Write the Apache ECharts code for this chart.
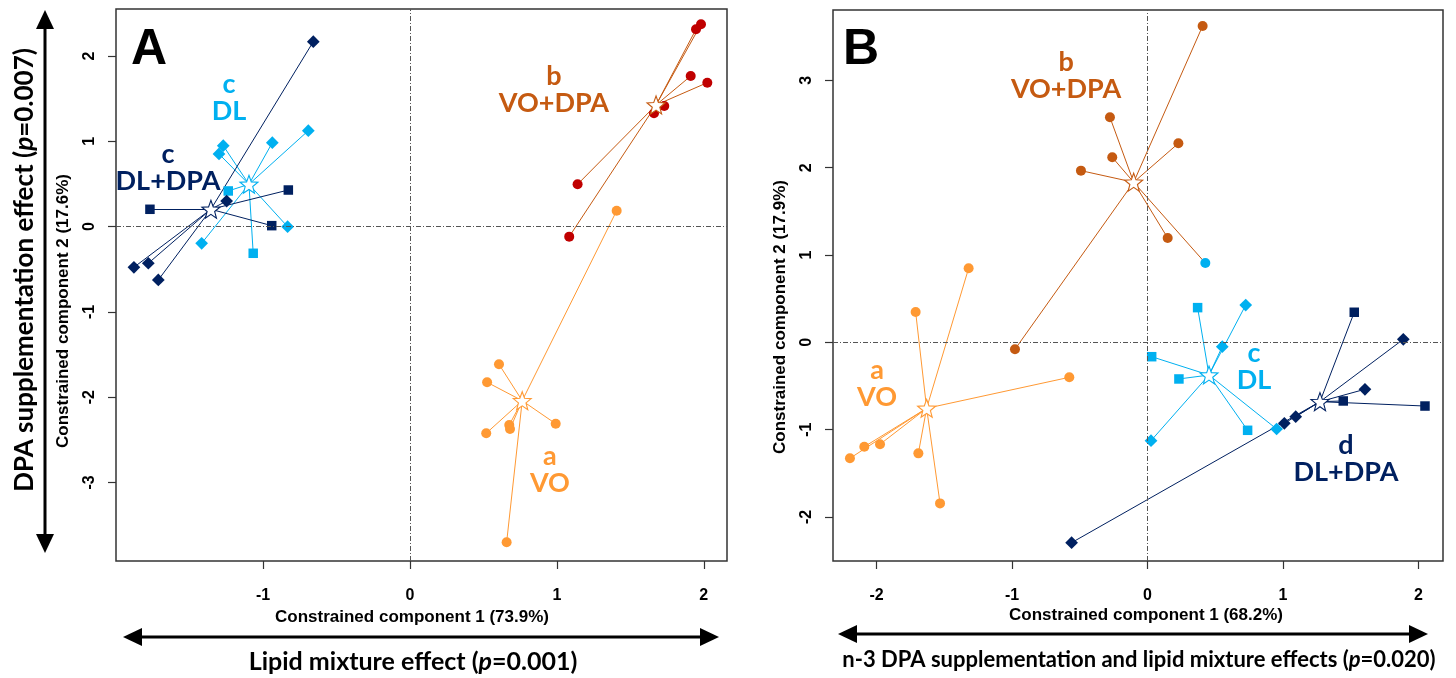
<!DOCTYPE html>
<html lang="en">
<head>
<meta charset="UTF-8">
<title>CAP ordination A / B</title>
<script src="https://cdn.jsdelivr.net/npm/echarts@6/dist/echarts.min.js"></script>
<style>
    html, body { margin: 0; padding: 0; background: #fff; }
    #main { width: 1456px; height: 678px; }
</style>
</head>
<body>
<div id="main"></div>
<script>
// ---------- panel A (lipid mixture / DPA supplementation) ----------
// form: 's' = square, 'd' = diamond, 'c' = circle
var A_dldpa_x = [-0.658, -1.770, -1.248, -0.828, -0.941, -1.879, -1.781, -1.713];
var A_dldpa_y = [2.169, 0.203, 0.300, 0.429, 0.011, -0.477, -0.430, -0.626];
var A_dldpa_form = ['d', 's', 'd', 's', 's', 'd', 'd', 'd'];
var A_dldpa_centre = [-1.355, 0.203];

var A_dl_x = [-1.271, -1.300, -0.937, -0.692, -1.237, -0.833, -1.418, -1.067];
var A_dl_y = [0.949, 0.852, 0.984, 1.125, 0.418, -0.001, -0.196, -0.313];
var A_dl_form = ['d', 'd', 'd', 'd', 's', 'd', 'd', 's'];
var A_dl_centre = [-1.096, 0.496];

var A_vodpa_x = [1.981, 1.947, 1.911, 2.024, 1.731, 1.661, 1.141, 1.084];
var A_vodpa_y = [2.373, 2.314, 1.766, 1.688, 1.414, 1.329, 0.496, -0.118];
var A_vodpa_centre = [1.675, 1.426];

var A_vo_x = [1.407, 0.606, 0.525, 0.519, 0.676, 0.681, 0.992, 0.658];
var A_vo_y = [0.186, -1.615, -1.826, -2.424, -2.327, -2.374, -2.312, -3.703];
var A_vo_centre = [0.764, -2.042];

// ---------- panel B ----------
var B_vodpa_x = [0.407, -0.277, -0.260, 0.228, 0.149, 0.427, -0.491, -0.978];
var B_vodpa_y = [3.623, 2.577, 2.119, 2.279, 1.195, 0.908, 1.966, -0.080];
var B_vodpa_diet = ['VO+DPA', 'VO+DPA', 'VO+DPA', 'VO+DPA', 'VO+DPA', 'DL', 'VO+DPA', 'VO+DPA'];
var B_vodpa_centre = [-0.102, 1.833];

var B_vo_x = [-1.320, -1.711, -0.577, -2.196, -2.090, -1.974, -1.691, -1.531];
var B_vo_y = [0.848, 0.347, -0.401, -1.329, -1.196, -1.168, -1.272, -1.845];
var B_vo_centre = [-1.630, -0.756];

var B_dl_x = [0.370, 0.725, 0.552, 0.031, 0.232, 0.026, 0.739, 0.953];
var B_dl_y = [0.397, 0.427, -0.050, -0.165, -0.420, -1.127, -1.008, -0.993];
var B_dl_form = ['s', 'd', 'd', 's', 's', 'd', 's', 'd'];
var B_dl_centre = [0.454, -0.375];

var B_dldpa_x = [1.526, 1.888, 1.605, 1.445, 2.048, 1.094, 1.010, -0.560];
var B_dldpa_y = [0.344, 0.034, -0.538, -0.672, -0.730, -0.852, -0.928, -2.295];
var B_dldpa_form = ['s', 'd', 'd', 's', 's', 'd', 'd', 'd'];
var B_dldpa_centre = [1.273, -0.680];

// group labels (letter of significance + diet), in data units
var A_labels = [
    {text: 'c\nDL', at: [-1.232, 1.514], diet: 'DL'},
    {text: 'c\nDL+DPA', at: [-1.647, 0.693], diet: 'DL+DPA'},
    {text: 'b\nVO+DPA', at: [0.980, 1.608], diet: 'VO+DPA'},
    {text: 'a\nVO', at: [0.953, -2.855], diet: 'VO'}
];
var B_labels = [
    {text: 'b\nVO+DPA', at: [-0.601, 3.056], diet: 'VO+DPA'},
    {text: 'a\nVO', at: [-1.996, -0.472], diet: 'VO'},
    {text: 'c\nDL', at: [0.786, -0.283], diet: 'DL'},
    {text: 'd\nDL+DPA', at: [1.465, -1.337], diet: 'DL+DPA'}
];

// axis ranges (R usr box) and ticks
var A_xrange = [-2.001, 2.158], A_yrange = [-3.922, 2.552];
var B_xrange = [-2.321, 2.181], B_yrange = [-2.505, 3.806];
var A_xticks = [-1, 0, 1, 2], A_yticks = [-3, -2, -1, 0, 1, 2];
var B_xticks = [-2, -1, 0, 1, 2], B_yticks = [-2, -1, 0, 1, 2, 3];

var colours = {
    'DL+DPA': '#002060',
    'DL': '#00b0f0',
    'VO': '#ff9933',
    'VO+DPA': '#c55a11'
};

// 5 point star outline
var starPath = (function () {
    var p = [];
    for (var i = 0; i < 10; i++) {
        var r = i % 2 ? 0.42 : 1;
        var a = -Math.PI / 2 + i * Math.PI / 5;
        p.push((Math.cos(a) * r).toFixed(3) + ' ' + (Math.sin(a) * r).toFixed(3));
    }
    return 'path://M' + p.join(' L') + ' Z';
})();

var series = [];

function addGroup(gi, xs, ys, centre, opt) {
    var segs = [], pts = [];
    for (var i = 0; i < xs.length; i++) {
        segs.push({coords: [centre, [xs[i], ys[i]]]});
        var f = opt.form ? opt.form[i] : 'c';
        var col = opt.diet ? colours[opt.diet[i]] : opt.point;
        pts.push({
            value: [xs[i], ys[i]],
            symbol: f === 'c' ? 'circle' : 'rect',
            symbolSize: f === 'c' ? 10 : (f === 'd' ? 9 : 9.5),
            symbolRotate: f === 'd' ? 45 : 0,
            itemStyle: {color: col, opacity: 1}
        });
    }
    series.push({
        type: 'lines', coordinateSystem: 'cartesian2d',
        xAxisIndex: gi, yAxisIndex: gi, z: 2, silent: true,
        lineStyle: {color: opt.line, width: 1, opacity: 1, curveness: 0},
        data: segs
    });
    series.push({
        type: 'scatter', xAxisIndex: gi, yAxisIndex: gi, z: 3, silent: true,
        itemStyle: {opacity: 1},
        data: pts
    });
    series.push({
        type: 'scatter', xAxisIndex: gi, yAxisIndex: gi, z: 4, silent: true,
        symbol: starPath, symbolSize: 18,
        itemStyle: {color: '#fff', borderColor: opt.line, borderWidth: 1.1, opacity: 1},
        data: [centre]
    });
}

function addLabels(gi, labels) {
    series.push({
        type: 'scatter', xAxisIndex: gi, yAxisIndex: gi, z: 5, silent: true,
        symbolSize: 0, itemStyle: {opacity: 1},
        data: labels.map(function (l) {
            return {
                value: l.at,
                label: {
                    show: true, position: 'inside', formatter: l.text,
                    color: colours[l.diet], fontFamily: 'Lato', fontWeight: 'bold',
                    fontSize: 27, lineHeight: 27, align: 'center', opacity: 1
                }
            };
        })
    });
}

function addZeroLines(gi) {
    series.push({
        type: 'scatter', xAxisIndex: gi, yAxisIndex: gi, z: 1, silent: true, data: [],
        markLine: {
            silent: true, symbol: ['none', 'none'], label: {show: false},
            lineStyle: {color: '#555', width: 1, type: [5, 2, 1, 2]},
            data: [{xAxis: 0}, {yAxis: 0}]
        }
    });
}

addZeroLines(0);
addGroup(0, A_vo_x, A_vo_y, A_vo_centre, {line: colours['VO'], point: colours['VO']});
addGroup(0, A_vodpa_x, A_vodpa_y, A_vodpa_centre, {line: colours['VO+DPA'], point: '#c00000'});
addGroup(0, A_dl_x, A_dl_y, A_dl_centre, {line: colours['DL'], point: colours['DL'], form: A_dl_form});
addGroup(0, A_dldpa_x, A_dldpa_y, A_dldpa_centre, {line: colours['DL+DPA'], point: colours['DL+DPA'], form: A_dldpa_form});
addLabels(0, A_labels);

addZeroLines(1);
addGroup(1, B_vo_x, B_vo_y, B_vo_centre, {line: colours['VO'], point: colours['VO']});
addGroup(1, B_vodpa_x, B_vodpa_y, B_vodpa_centre, {line: colours['VO+DPA'], diet: B_vodpa_diet});
addGroup(1, B_dl_x, B_dl_y, B_dl_centre, {line: colours['DL'], point: colours['DL'], form: B_dl_form});
addGroup(1, B_dldpa_x, B_dldpa_y, B_dldpa_centre, {line: colours['DL+DPA'], point: colours['DL+DPA'], form: B_dldpa_form});
addLabels(1, B_labels);

var tickFont = {color: '#000', fontFamily: 'Liberation Sans', fontWeight: 'bold', fontSize: 16};

function xAxisOf(gi, range, ticks) {
    return {
        type: 'value', gridIndex: gi, min: range[0], max: range[1],
        axisLine: {show: false, onZero: false}, splitLine: {show: false},
        axisTick: {show: true, inside: false, length: 8, customValues: ticks, lineStyle: {color: '#333', width: 1.2}},
        axisLabel: Object.assign({margin: 27, customValues: ticks}, tickFont)
    };
}
function yAxisOf(gi, range, ticks) {
    return {
        type: 'value', gridIndex: gi, min: range[0], max: range[1],
        axisLine: {show: false, onZero: false}, splitLine: {show: false},
        axisTick: {show: true, inside: false, length: 8, customValues: ticks, lineStyle: {color: '#333', width: 1.2}},
        axisLabel: Object.assign({margin: 18, rotate: 90, customValues: ticks}, tickFont)
    };
}

// arrows and titles
function arrow(x1, y1, x2, y2) {
    var dx = x2 - x1, dy = y2 - y1, len = Math.sqrt(dx * dx + dy * dy);
    var ux = dx / len, uy = dy / len, hl = 19, hw = 9;
    function head(tx, ty, sx, sy) {
        var bx = tx - sx * hl, by = ty - sy * hl;
        return {type: 'polygon', shape: {points: [[tx, ty], [bx - sy * hw, by + sx * hw], [bx + sy * hw, by - sx * hw]]},
            style: {fill: '#000'}};
    }
    return [
        {type: 'line', shape: {x1: x1 + ux * hl, y1: y1 + uy * hl, x2: x2 - ux * hl, y2: y2 - uy * hl},
            style: {stroke: '#000', lineWidth: 3}},
        head(x2, y2, ux, uy),
        head(x1, y1, -ux, -uy)
    ];
}

function titleText(x, y, before, after, size, rot) {
    return {
        type: 'text', x: x, y: y, rotation: rot || 0,
        style: {
            text: '{n|' + before + '}{i|p}{n|' + after + '}',
            align: 'center', verticalAlign: 'middle',
            rich: {
                n: {font: 'bold ' + size + 'px Lato', fill: '#000'},
                i: {font: 'italic bold ' + size + 'px Lato', fill: '#000'}
            }
        }
    };
}

function plainText(x, y, text, font, rot) {
    return {
        type: 'text', x: x, y: y, rotation: rot || 0,
        style: {text: text, font: font, fill: '#000', align: 'center', verticalAlign: 'middle'}
    };
}

var axisTitleFont = 'bold 17px "Liberation Sans"';
var graphics = [].concat(
    arrow(45, 10, 45, 553),
    arrow(123, 637, 719, 637),
    arrow(838, 634, 1428, 634),
    [
        plainText(149, 50, 'A', 'bold 50px "Liberation Sans"'),
        plainText(861, 50, 'B', 'bold 50px "Liberation Sans"'),
        plainText(412, 617, 'Constrained component 1 (73.9%)', axisTitleFont),
        plainText(63, 311, 'Constrained component 2 (17.6%)', axisTitleFont, Math.PI / 2),
        plainText(1146, 615, 'Constrained component 1 (68.2%)', axisTitleFont),
        plainText(780, 317, 'Constrained component 2 (17.9%)', axisTitleFont, Math.PI / 2),
        titleText(413, 662, 'Lipid mixture effect (', '=0.001)', 25),
        titleText(1139, 660, 'n-3 DPA supplementation and lipid mixture effects (', '=0.020)', 22),
        titleText(25, 270, 'DPA supplementation effect (', '=0.007)', 26, Math.PI / 2)
    ]
);

var chart = echarts.init(document.getElementById('main'), null, {renderer: 'canvas'});
chart.setOption({
    backgroundColor: '#fff',
    animation: false,
    grid: [
        {left: 116, top: 9, width: 611, height: 552, show: true, borderColor: '#333', borderWidth: 1.5},
        {left: 833, top: 10, width: 610, height: 551, show: true, borderColor: '#333', borderWidth: 1.5}
    ],
    xAxis: [xAxisOf(0, A_xrange, A_xticks), xAxisOf(1, B_xrange, B_xticks)],
    yAxis: [yAxisOf(0, A_yrange, A_yticks), yAxisOf(1, B_yrange, B_yticks)],
    series: series,
    graphic: graphics
});
</script>
</body>
</html>
